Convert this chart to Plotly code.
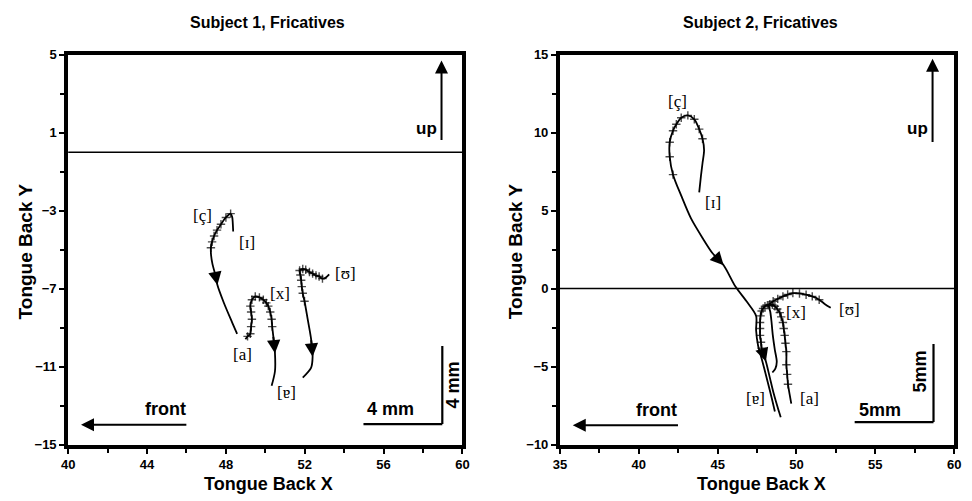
import plotly.graph_objects as go

# ---------------- data (Tongue Back X / Y, mm) ----------------
# Subject 1
s1_c_x = [48.37, 48.35, 48.32, 48.24, 48.00, 47.75, 47.55, 47.40, 47.30, 47.24, 47.25, 47.32, 47.49, 47.57, 47.90, 48.32, 48.57]
s1_c_y = [-4.07, -3.65, -3.32, -3.15, -3.35, -3.70, -4.00, -4.30, -4.60, -4.90, -5.30, -5.74, -6.40, -6.82, -7.74, -8.74, -9.32]
s1_x_x = [48.99, 49.10, 49.24, 49.28, 49.32, 49.28, 49.24, 49.32, 49.49, 49.70, 49.90, 50.05, 50.15, 50.25, 50.32, 50.35, 50.40, 50.49, 50.49, 50.32]
s1_x_y = [-9.60, -9.45, -9.32, -8.95, -8.57, -8.20, -7.90, -7.57, -7.40, -7.45, -7.57, -7.73, -7.90, -8.20, -8.57, -8.95, -9.40, -10.32, -11.24, -11.99]
s1_u_x = [53.24, 53.05, 52.90, 52.73, 52.57, 52.40, 52.24, 52.05, 51.90, 51.74, 51.78, 51.82, 51.85, 51.90, 51.99, 52.15, 52.32, 52.40, 52.32, 51.90]
s1_u_y = [-6.27, -6.45, -6.49, -6.38, -6.32, -6.23, -6.15, -6.03, -5.99, -6.07, -6.30, -6.57, -6.90, -7.24, -7.65, -8.57, -9.57, -10.49, -11.07, -11.57]

# Subject 2
s2_c_x = [43.83, 43.94, 44.04, 44.14, 44.04, 43.83, 43.52, 43.11, 42.69, 42.38, 42.17, 41.96, 41.96, 42.17, 42.69, 43.31, 44.04, 44.69, 45.38, 46.13, 46.88, 47.44, 47.44, 47.56, 47.81, 48.13, 48.44, 48.63]
s2_c_y = [6.17, 7.21, 8.04, 8.88, 9.61, 10.23, 10.86, 11.11, 10.96, 10.54, 10.13, 9.39, 8.46, 7.31, 5.96, 4.50, 3.25, 2.25, 1.50, 0.13, -0.88, -1.75, -2.69, -3.63, -4.56, -5.81, -7.06, -7.88]
s2_x_x = [49.67, 49.56, 49.46, 49.41, 49.36, 49.36, 49.30, 49.25, 49.19, 49.14, 49.03, 48.94, 48.78, 48.63, 48.47, 48.31, 48.16, 48.00, 47.88, 47.79, 47.72, 47.69, 47.69, 47.69, 47.75, 47.79, 48.06, 48.31, 48.56, 48.81, 49.00]
s2_x_y = [-7.38, -6.75, -6.13, -5.50, -4.88, -4.04, -3.50, -3.00, -2.56, -2.17, -1.81, -1.54, -1.31, -1.13, -1.04, -1.02, -1.06, -1.13, -1.28, -1.44, -1.75, -2.17, -2.56, -3.00, -3.44, -3.83, -4.67, -5.71, -6.75, -7.63, -8.25]
s2_u_x = [52.17, 51.81, 51.44, 51.00, 50.61, 50.19, 49.77, 49.44, 49.14, 48.81, 48.52, 48.25, 48.34, 48.41, 48.50, 48.63, 48.75, 48.66, 48.47]
s2_u_y = [-1.23, -1.00, -0.71, -0.50, -0.39, -0.31, -0.29, -0.38, -0.50, -0.66, -0.81, -1.06, -1.50, -2.06, -3.00, -3.94, -4.69, -5.13, -5.38]

# index ranges of the frication (tick-marked) portion, and arrow index
s1_c_fric, s1_c_arrow = (3, 9), 13
s1_x_fric, s1_x_arrow = (1, 15), 17
s1_u_fric, s1_u_arrow = (2, 14), 17
s2_c_fric, s2_c_arrow = (4, 13), 18
s2_x_fric, s2_x_arrow = (2, 25), 26
s2_u_fric, s2_u_arrow = (2, 11), None

# phonetic labels
s1_labels = ["[ç]", "[ɪ]", "[a]", "[x]", "[ɐ]", "[ʊ]"]
s1_label_x = [46.82, 49.07, 48.82, 50.74, 51.07, 54.07]
s1_label_y = [-3.24, -4.65, -10.40, -7.24, -12.32, -6.24]
s2_labels = ["[ç]", "[ɪ]", "[x]", "[ʊ]", "[ɐ]", "[a]"]
s2_label_x = [42.48, 44.73, 49.98, 53.38, 47.38, 50.81]
s2_label_y = [12.00, 5.54, -1.54, -1.31, -7.06, -7.06]

# ticks
s1_xticks = [40, 44, 48, 52, 56, 60]
s1_yticks = [5, 1, -3, -7, -11, -15]
s2_xticks = [35, 40, 45, 50, 55, 60]
s2_yticks = [15, 10, 5, 0, -5, -10]

# scale bar lengths (mm)
s1_scale = 4
s2_scale = 5

# ---------------- figure ----------------
# the page body has an 8px margin; size the figure so it fills the window
OFF = 8
W, H = 972 - OFF, 501 - OFF


def xp(px):
    return (px - OFF) / W


def yp(py):
    return 1 - (py - OFF) / H


fig = go.Figure()
BLACK = "#000000"
SERIF = "Liberation Serif, DejaVu Serif, serif"
SANS = "Liberation Sans, Arial, sans-serif"

annotations = []
shapes = []


def add_traj(xs, ys, fric, arrow, xa, ya):
    sizes = [6 if fric[0] <= i <= fric[1] else 0 for i in range(len(xs))]
    fig.add_trace(go.Scatter(
        x=xs, y=ys, mode="lines+markers", xaxis=xa, yaxis=ya,
        line=dict(color=BLACK, width=1.8, shape="spline", smoothing=0.8),
        marker=dict(symbol="cross-thin", size=sizes, line=dict(color=BLACK, width=1.4)),
        showlegend=False, hoverinfo="skip"))
    if arrow is not None:
        annotations.append(dict(
            x=xs[arrow], y=ys[arrow], ax=xs[arrow - 1], ay=ys[arrow - 1],
            xref=xa, yref=ya, axref=xa, ayref=ya, text="", showarrow=True,
            arrowhead=2, arrowsize=1.4, arrowwidth=1.9, arrowcolor=BLACK, standoff=0))


add_traj(s1_c_x, s1_c_y, s1_c_fric, s1_c_arrow, "x", "y")
add_traj(s1_x_x, s1_x_y, s1_x_fric, s1_x_arrow, "x", "y")
add_traj(s1_u_x, s1_u_y, s1_u_fric, s1_u_arrow, "x", "y")
add_traj(s2_c_x, s2_c_y, s2_c_fric, s2_c_arrow, "x2", "y2")
add_traj(s2_x_x, s2_x_y, s2_x_fric, s2_x_arrow, "x2", "y2")
add_traj(s2_u_x, s2_u_y, s2_u_fric, s2_u_arrow, "x2", "y2")

LABFONT = dict(family=SERIF, size=17, color=BLACK)
for lab, lx, ly in zip(s1_labels, s1_label_x, s1_label_y):
    annotations.append(dict(x=lx, y=ly, xref="x", yref="y", text=lab, showarrow=False,
                            xanchor="center", yanchor="middle", font=LABFONT))
for lab, lx, ly in zip(s2_labels, s2_label_x, s2_label_y):
    annotations.append(dict(x=lx, y=ly, xref="x2", yref="y2", text=lab, showarrow=False,
                            xanchor="center", yanchor="middle", font=LABFONT))

BOLD = dict(family=SANS, size=18, color=BLACK, weight="bold")


def arrow(xa, ya, x, y, ax, ay):
    annotations.append(dict(x=x, y=y, ax=ax, ay=ay, xref=xa, yref=ya, axref=xa, ayref=ya,
                            text="", showarrow=True, arrowhead=2, arrowsize=1.3,
                            arrowwidth=2, arrowcolor=BLACK, standoff=0))


def text(xa, ya, x, y, t, xanchor="center", angle=0, size=18):
    f = dict(BOLD)
    f["size"] = size
    annotations.append(dict(x=x, y=y, xref=xa, yref=ya, text=t, showarrow=False,
                            xanchor=xanchor, yanchor="middle", textangle=angle, font=f))


def seg(xa, ya, x0, y0, x1, y1, w=2.2):
    shapes.append(dict(type="line", xref=xa, yref=ya, x0=x0, y0=y0, x1=x1, y1=y1,
                       line=dict(color=BLACK, width=w)))


# zero lines
shapes.append(dict(type="line", xref="x domain", yref="y", x0=0, x1=1, y0=0, y1=0,
                   line=dict(color=BLACK, width=1.5)))
shapes.append(dict(type="line", xref="x2 domain", yref="y2", x0=0, x1=1, y0=0, y1=0,
                   line=dict(color=BLACK, width=1.5)))

# Subject 1 decorations
arrow("x", "y", 58.94, 4.7, 58.94, 0.55)
text("x", "y", 58.80, 1.2, "up", xanchor="right", size=17)
arrow("x", "y", 40.65, -13.98, 46.07, -13.98)
text("x", "y", 46.07, -13.2, "front", xanchor="right")
seg("x", "y", 58.98 - s1_scale, -13.95, 58.98, -13.95)
seg("x", "y", 58.98, -13.95, 58.98, -13.95 + s1_scale)
text("x", "y", 56.35, -13.2, "4 mm")
text("x", "y", 59.55, -11.95, "4 mm", angle=-90)

# Subject 2 decorations
arrow("x2", "y2", 58.63, 14.75, 58.63, 9.3)
text("x2", "y2", 58.45, 10.25, "up", xanchor="right", size=17)
arrow("x2", "y2", 35.81, -8.77, 42.58, -8.77)
text("x2", "y2", 42.58, -7.8, "front", xanchor="right")
seg("x2", "y2", 58.69 - s2_scale, -8.56, 58.69, -8.56)
seg("x2", "y2", 58.69, -8.56, 58.69, -8.56 + s2_scale)
text("x2", "y2", 55.3, -7.8, "5mm")
text("x2", "y2", 57.85, -5.3, "5mm", angle=-90)

# titles and axis titles (paper coords)
for t, cx in [("Subject 1, Fricatives", 264), ("Subject 2, Fricatives", 764)]:
    annotations.append(dict(x=xp(cx), y=yp(16), xref="paper", yref="paper", text=t,
                            xanchor="center", yanchor="middle",
                            showarrow=False, font=dict(BOLD, size=16)))
for cx in [265, 766]:
    annotations.append(dict(x=xp(cx), y=yp(492), xref="paper", yref="paper",
                            xanchor="center", yanchor="middle",
                            text="Tongue Back X", showarrow=False, font=dict(BOLD, size=18)))
for cx in [19, 516]:
    annotations.append(dict(x=xp(cx), y=yp(252), xref="paper", yref="paper",
                            xanchor="center", yanchor="middle",
                            text="Tongue Back Y", textangle=-90, showarrow=False,
                            font=dict(BOLD, size=19)))

TICKFONT = dict(family=SANS, size=13, color=BLACK, weight="bold")
ax_common = dict(showline=True, linewidth=4, linecolor=BLACK, mirror=True,
                 ticks="outside", ticklen=5, tickwidth=1.5, tickcolor=BLACK,
                 showgrid=False, zeroline=False, tickfont=TICKFONT, fixedrange=True)

fig.update_layout(
    width=W, height=H, margin=dict(l=0, r=0, t=0, b=0),
    paper_bgcolor="white", plot_bgcolor="white",
    xaxis=dict(ax_common, domain=[xp(62), xp(462)], range=[40, 60], tickvals=s1_xticks,
               minor=dict(ticks="outside", ticklen=4, dtick=2, tick0=40, tickcolor=BLACK),
               anchor="y"),
    yaxis=dict(ax_common, domain=[yp(451), yp(49)], range=[-15, 5], tickvals=s1_yticks,
               minor=dict(ticks="outside", ticklen=4, dtick=2, tick0=1, tickcolor=BLACK),
               anchor="x"),
    xaxis2=dict(ax_common, domain=[xp(561), xp(961)], range=[35, 60], tickvals=s2_xticks,
                minor=dict(ticks="outside", ticklen=4, dtick=2.5, tick0=35, tickcolor=BLACK),
                anchor="y2"),
    yaxis2=dict(ax_common, domain=[yp(451), yp(49)], range=[-10, 15], tickvals=s2_yticks,
                minor=dict(ticks="outside", ticklen=4, dtick=2.5, tick0=0, tickcolor=BLACK),
                anchor="x2"),
    annotations=annotations, shapes=shapes,
)

fig.write_html("out.html")
